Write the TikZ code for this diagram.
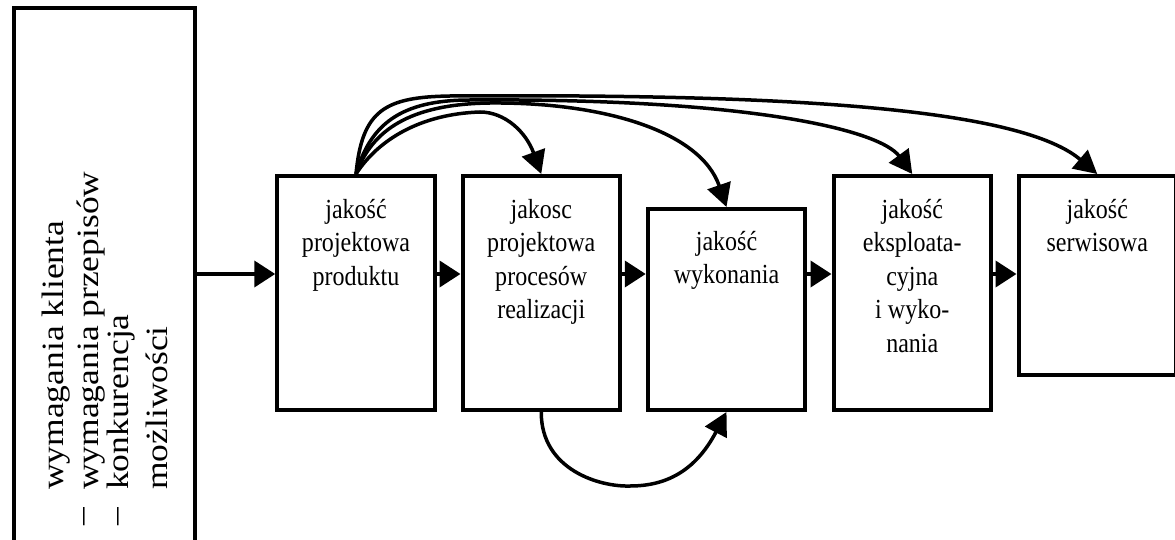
\documentclass[tikz,border=0pt]{standalone}
\usepackage{fontspec}
\setmainfont{Liberation Serif}
\newfontfamily\boxfont[FakeStretch=0.87]{Liberation Serif}
\newfontfamily\sidefont[FakeStretch=1.145]{Liberation Serif}
\usetikzlibrary{arrows.meta}
\begin{document}
\begin{tikzpicture}[x=1pt,y=-1pt,
  box/.style={draw, line width=4pt, inner sep=0pt},
  stage/.style={box, minimum width=157.5pt},
  txt/.style={font=\boxfont\fontsize{27.6}{33.5}\selectfont, align=center,
              anchor=north, inner sep=0pt},
  side/.style={font=\sidefont\fontsize{31}{36}\selectfont, rotate=90,
               anchor=base west, inner sep=0pt},
  bullet/.style={font=\sidefont\fontsize{31}{36}\selectfont, rotate=90, inner sep=0pt},
  flow/.style={line width=4pt, -{Triangle[length=21pt,width=26pt]}},
  arc/.style={line width=3.5pt, -{Triangle[length=23pt,width=24pt]}}]
\useasboundingbox (0,0) rectangle (1175,540);

% input box on the left (runs past the lower edge)
\node[box, minimum width=181.5pt, minimum height=571.5pt] (L) at (104.25,294.25) {};
\node[side] (s1) at (63,490)  {wymagania klienta};
\node[side] (s2) at (98,490)  {wymagania przepisów};
\node[side] (s3) at (128,490) {konkurencja};
\node[side] (s4) at (167,490) {możliwości};
\node[bullet] (d2) at (88,517) {–};
\node[bullet] (d3) at (122,517) {–};

% quality stages
\node[stage, minimum height=234pt] (b1) at (356,293) {};
\node[stage, minimum height=234pt] (b2) at (541.25,293) {};
\node[stage, minimum height=201pt] (b3) at (726.5,309.5) {};
\node[stage, minimum height=234pt] (b4) at (912.25,293) {};
\node[stage, minimum height=199pt] (b5) at (1097.25,275.5) {};

\node[txt] (t1) at ([yshift=-21.8pt]b1.north) {\rule{0pt}{22pt}jakość\\projektowa\\produktu};
\node[txt] (t2) at ([yshift=-21.8pt]b2.north) {\rule{0pt}{22pt}jakosc\\projektowa\\procesów\\realizacji};
\node[txt] (t3) at ([yshift=-20.8pt]b3.north) {\rule{0pt}{22pt}jakość\\wykonania};
\node[txt] (t4) at ([yshift=-21.8pt]b4.north) {\rule{0pt}{22pt}jakość\\eksploata-\\cyjna\\i wyko-\\nania};
\node[txt] (t5) at ([yshift=-21.8pt]b5.north) {\rule{0pt}{22pt}jakość\\serwisowa};

% main flow
\coordinate (row) at (0,274);
\draw[flow] (L.east |- row)  -- (b1.west |- row);
\draw[flow] (b1.east |- row) -- (b2.west |- row);
\draw[flow] (b2.east |- row) -- (b3.west |- row);
\draw[flow] (b3.east |- row) -- (b4.west |- row);
\draw[flow] (b4.east |- row) -- (b5.west |- row);

% feed-forward arcs from product design
\draw[arc] (b1.north) .. controls (378,140) and (420,114) .. (480,112)
                      .. controls (505,112) and (526,132) .. (b2.north);
\draw[arc] (b1.north) .. controls (372,130) and (410,104) .. (490,103)
                      .. controls (600,102) and (700,130) .. (b3.north);
\draw[arc] (b1.north) .. controls (370,125) and (400,100) .. (470,100)
                      .. controls (750,98) and (880,130) .. (b4.north);
\draw[arc] (b1.north) .. controls (362,110) and (385,97) .. (450,96)
                      .. controls (750,94) and (1015,104) .. (b5.north);

% process design feeds execution
\draw[arc] (b2.south) .. controls (541,470) and (600,487) .. (630,486)
                      .. controls (665,486) and (695,472) .. (b3.south);
\end{tikzpicture}
\end{document}
